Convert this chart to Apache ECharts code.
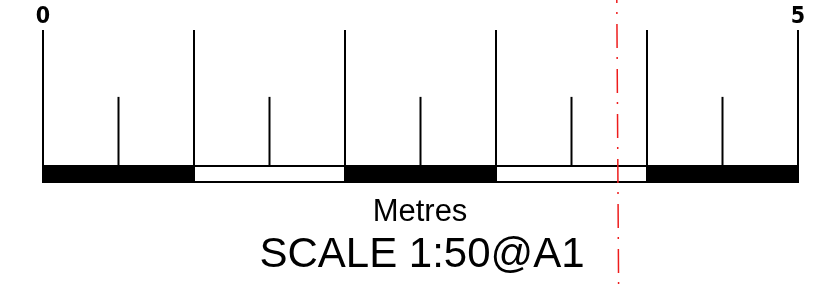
<!DOCTYPE html>
<html>
<head>
<meta charset="utf-8">
<script src="https://cdn.jsdelivr.net/npm/echarts@6/dist/echarts.min.js"></script>
<style>
    html, body { margin: 0; padding: 0; background: #fff; }
    #main { width: 832px; height: 288px; }
</style>
</head>
<body>
<div id="main"></div>
<script>
// scale bar: metres 0..5
var segments = [[0, 1], [1, 2], [2, 3], [3, 4], [4, 5]];
var segmentFill = ['#000', '#fff', '#000', '#fff', '#000'];
var majorTicks = [0, 1, 2, 3, 4, 5];
var minorTicks = [0.5, 1.5, 2.5, 3.5, 4.5];
var tickLabels = [[0, '0'], [5, '5']];
// red dash-dot guide line (x at top, x at bottom)
var guideLine = [3.80, 3.812];

var barTop = 0.105;
var minorTop = 0.56;
var majorTop = 1;

var myChart = echarts.init(document.getElementById('main'));

function tickItem(top) {
    return function (params, api) {
        var p0 = api.coord([api.value(0), 0]);
        var p1 = api.coord([api.value(0), top]);
        return {
            type: 'line',
            shape: { x1: p0[0], y1: p0[1], x2: p1[0], y2: p1[1] },
            style: { stroke: '#000', lineWidth: 2 }
        };
    };
}

var option = {
    animation: false,
    grid: { left: 43, right: 34, top: 30, bottom: 106 },
    xAxis: { type: 'value', min: 0, max: 5, show: false },
    yAxis: { type: 'value', min: 0, max: 1, show: false },
    series: [
        {
            type: 'custom',
            data: majorTicks.map(function (v) { return [v]; }),
            renderItem: tickItem(majorTop),
            z: 1
        },
        {
            type: 'custom',
            data: minorTicks.map(function (v) { return [v]; }),
            renderItem: tickItem(minorTop),
            z: 1
        },
        {
            type: 'custom',
            data: segments.map(function (s, i) { return [s[0], s[1], i]; }),
            renderItem: function (params, api) {
                var a = api.coord([api.value(0), barTop]);
                var b = api.coord([api.value(1), 0]);
                return {
                    type: 'rect',
                    shape: { x: a[0], y: a[1], width: b[0] - a[0], height: b[1] - a[1] },
                    style: { fill: segmentFill[api.value(2)], stroke: '#000', lineWidth: 2 }
                };
            },
            z: 2
        },
        {
            type: 'custom',
            data: tickLabels,
            renderItem: function (params, api) {
                var p = api.coord([api.value(0), majorTop]);
                return {
                    type: 'text',
                    x: p[0],
                    y: p[1] - 13,
                    style: {
                        text: tickLabels[params.dataIndex][1],
                        align: 'center',
                        verticalAlign: 'middle',
                        font: 'bold 23px "DejaVu Sans Condensed", "DejaVu Sans", sans-serif',
                        fill: '#000'
                    }
                };
            },
            clip: false,
            z: 3
        },
        {
            type: 'custom',
            data: [guideLine],
            renderItem: function (params, api) {
                var t = api.coord([api.value(0), 0]);
                var b = api.coord([api.value(1), 0]);
                return {
                    type: 'line',
                    shape: { x1: t[0], y1: 0, x2: b[0], y2: api.getHeight() },
                    style: {
                        stroke: '#ee1c1c',
                        lineWidth: 1.5,
                        lineDash: [24, 9, 2, 10],
                        lineDashOffset: 21
                    }
                };
            },
            clip: false,
            z: 5
        }
    ],
    graphic: [
        {
            type: 'text',
            x: 420,
            y: 212,
            style: {
                text: 'Metres',
                align: 'center',
                verticalAlign: 'middle',
                font: '31px "Liberation Sans", Arial, sans-serif',
                fill: '#000'
            }
        },
        {
            type: 'text',
            x: 422,
            y: 255,
            style: {
                text: 'SCALE 1:50@A1',
                align: 'center',
                verticalAlign: 'middle',
                font: '42px "Liberation Sans", Arial, sans-serif',
                fill: '#000'
            }
        }
    ]
};

myChart.setOption(option);
</script>
</body>
</html>
